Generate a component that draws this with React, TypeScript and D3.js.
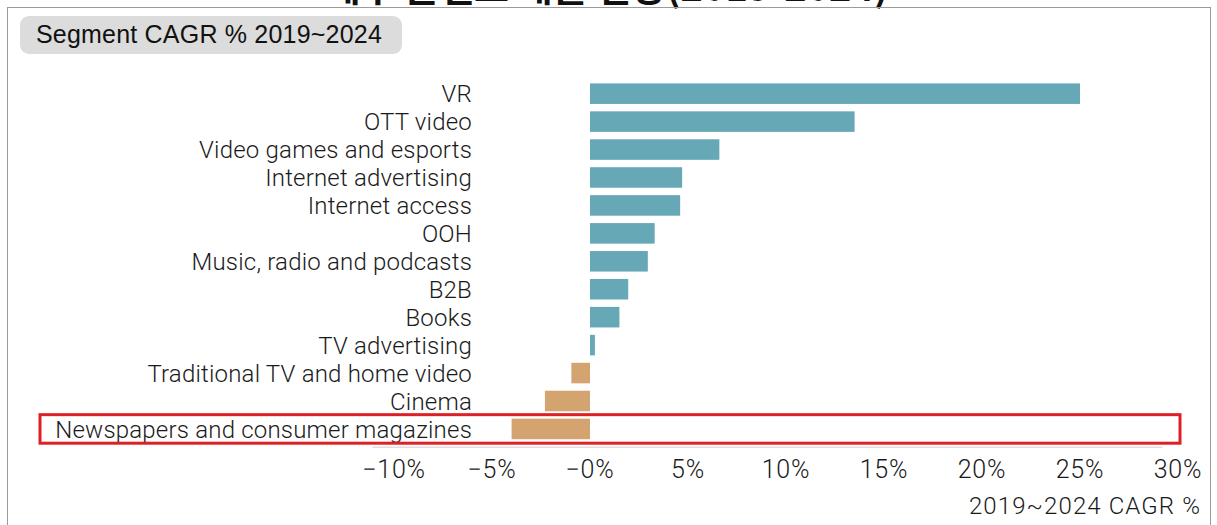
import React from "react";
import * as d3 from "d3";

const categories: string[] = [
  "VR",
  "OTT video",
  "Video games and esports",
  "Internet advertising",
  "Internet access",
  "OOH",
  "Music, radio and podcasts",
  "B2B",
  "Books",
  "TV advertising",
  "Traditional TV and home video",
  "Cinema",
  "Newspapers and consumer magazines",
];
const cagrValues: number[] = [25.0, 13.5, 6.6, 4.7, 4.6, 3.3, 2.95, 1.95, 1.5, 0.25, -0.95, -2.3, -4.0];
const tickValues: number[] = [-10, -5, 0, 5, 10, 15, 20, 25, 30];
const tickLabels: string[] = ["\u221210%", "\u22125%", "\u22120%", "5%", "10%", "15%", "20%", "25%", "30%"];
const highlighted = "Newspapers and consumer magazines";
const pageTitle = "세부 콘텐츠 매출 전망(2019-2024)";
const boxTitle = "Segment CAGR % 2019~2024";
const axisTitle = "2019~2024 CAGR %";

const W = 1217;
const H = 525;
const POS = "#67a8b7";
const NEG = "#d3a370";
const LABEL_FONT = "Roboto, 'Liberation Sans', sans-serif";

export default function App() {
  const x = d3.scaleLinear().domain([-10, 30]).range([394, 1178]);
  const y = d3.scaleBand<string>().domain(categories).range([76, 446.6]).padding(0.265);
  const bw = y.bandwidth();
  const hy = y(highlighted) as number;

  return (
    <svg
      width={W}
      height={H}
      style={{ position: "absolute", left: 0, top: 0, background: "#fff" }}
    >
      <text
        x={607}
        y={1}
        textAnchor="middle"
        fontFamily="'Noto Sans CJK KR', sans-serif"
        fontWeight={700}
        fontSize={38}
        fill="#111"
      >
        {pageTitle}
      </text>
      <rect x={7.5} y={7.5} width={1203} height={530} fill="none" stroke="#9a9a9a" strokeWidth={1} />
      <rect x={20} y={16} width={382} height={38} rx={9} fill="#dcdcdc" />
      <text
        x={36}
        y={43}
        fontFamily="'Liberation Sans', Arial, sans-serif"
        fontSize={25}
        letterSpacing={0.2}
        fill="#111"
      >
        {boxTitle}
      </text>

      {categories.map((c, i) => {
        const v = cagrValues[i];
        const x0 = x(Math.min(0, v));
        const x1 = x(Math.max(0, v));
        return (
          <g key={c}>
            <rect x={x0} y={y(c)} width={x1 - x0} height={bw} fill={v >= 0 ? POS : NEG} />
            <text
              x={472}
              y={(y(c) as number) + bw / 2}
              dy="0.36em"
              textAnchor="end"
              fontFamily={LABEL_FONT}
              fontWeight={300}
              fontSize={24}
              letterSpacing={0.2}
              fill="#1a1a1a"
            >
              {c}
            </text>
          </g>
        );
      })}

      <line x1={x(-11.1)} x2={x(29.2)} y1={hy + bw + 8} y2={hy + bw + 8} stroke="#cfcfcf" strokeWidth={1} />
      <rect
        x={40}
        y={hy - 4}
        width={1140}
        height={bw + 8}
        fill="none"
        stroke="#dd1f26"
        strokeWidth={3}
      />

      {tickValues.map((t, i) => (
        <text
          key={t}
          x={x(t)}
          y={478}
          textAnchor="middle"
          fontFamily={LABEL_FONT}
          fontWeight={300}
          fontSize={25}
          letterSpacing={0.8}
          fill="#1a1a1a"
        >
          {tickLabels[i]}
        </text>
      ))}
      <text
        x={1201}
        y={514}
        textAnchor="end"
        fontFamily={LABEL_FONT}
        fontWeight={300}
        fontSize={24}
        letterSpacing={1.1}
        fill="#1a1a1a"
      >
        {axisTitle}
      </text>
    </svg>
  );
}
